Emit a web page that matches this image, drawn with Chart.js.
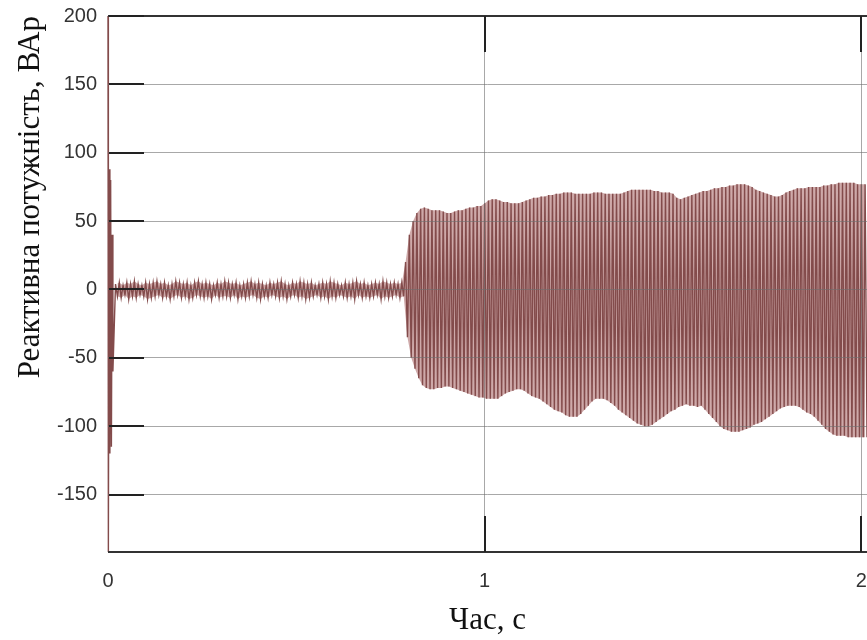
<!DOCTYPE html>
<html>
<head>
<meta charset="utf-8">
<title>Реактивна потужність</title>
<script src="https://cdn.jsdelivr.net/npm/chart.js@4.4.1/dist/chart.umd.min.js"></script>
<style>
    html, body { margin: 0; padding: 0; background: #fff; }
    #wrap { width: 867px; height: 640px; }
</style>
</head>
<body>
<div id="wrap"><canvas id="grafico"></canvas></div>
<script>
// початковий кидок (t = 0 ... 0.013 c)
const startT = [0, 0.001, 0.003, 0.005, 0.007, 0.009, 0.011, 0.013];
const startV = [200, -192, 88, -120, 80, -115, 40, -60];

// далі піки кожні 0.01 c, починаючи з 0.02 c
const T0 = 0.02;
const STEP = 0.01;

// верхні піки
const hi = [
    4,5,3,5,4,6,4,3,5,4,5,6,4,5,3,4,6,5,4,5,3,5,6,4,5,4,3,5,4,6,5,4,5,3,4,5,6,4,
    5,4,3,5,4,5,6,4,3,5,4,6,5,4,5,3,4,5,4,6,5,4,3,5,4,5,6,4,5,3,4,5,4,6,5,4,5,4,
    5,20,
    40,50,56,59,60,59,58,58,58,57,
    56,56,57,58,58,59,60,60,61,61,
    63,65,66,66,65,64,64,63,63,63,
    64,65,66,67,67,68,68,69,69,70,
    70,71,71,71,70,70,70,70,70,71,
    71,71,70,70,70,70,70,71,72,73,
    73,73,73,73,73,72,72,71,71,71,
    70,67,66,67,68,69,70,71,72,72,
    73,74,74,75,75,76,76,77,77,77,
    76,75,73,72,71,70,69,68,68,69,
    71,72,73,74,74,74,75,75,75,75,
    76,76,77,77,78,78,78,78,78,77,
    77,77
];

// нижні піки
const lo = [
    -5,-6,-4,-7,-5,-6,-4,-5,-7,-6,-5,-4,-6,-5,-7,-5,-4,-6,-5,-7,-6,-4,-5,-6,-5,-7,-4,-6,-5,-5,-6,-4,-7,-5,-6,-5,-4,-6,
    -7,-5,-6,-4,-5,-6,-5,-7,-5,-4,-6,-5,-7,-6,-5,-4,-6,-5,-7,-5,-6,-4,-5,-6,-5,-7,-4,-6,-5,-6,-5,-4,-7,-5,-6,-5,-4,-6,
    -5,-35,
    -50,-58,-65,-70,-72,-73,-73,-72,-72,-71,
    -71,-72,-73,-74,-75,-76,-77,-78,-79,-79,
    -80,-80,-80,-80,-78,-76,-75,-74,-73,-73,
    -74,-76,-78,-79,-80,-82,-84,-86,-88,-89,
    -90,-92,-93,-93,-93,-91,-88,-85,-82,-80,
    -80,-80,-81,-83,-85,-88,-90,-92,-94,-96,
    -98,-99,-100,-100,-99,-97,-95,-93,-91,-89,
    -88,-86,-85,-84,-85,-85,-86,-85,-88,-91,
    -94,-97,-100,-102,-103,-104,-104,-104,-103,-102,
    -101,-99,-98,-97,-95,-93,-91,-89,-87,-86,
    -85,-85,-85,-86,-88,-90,-91,-93,-96,-99,
    -102,-104,-106,-107,-107,-107,-108,-108,-108,-108,
    -108,-108
];

const yTicks = [-150, -100, -50, 0, 50, 100, 150, 200];
const xTicks = [0, 1, 2];

const COR_LINHA = '#834b4b';
const COR_FUNDO = 'rgba(190,140,140,0.75)';

function montarPontos() {
    var pontos = [];
    for (var i = 0; i < startT.length; i++) {
        pontos.push({ x: startT[i], y: startV[i] });
    }
    var n = Math.min(hi.length, lo.length);
    for (var k = 0; k < n; k++) {
        var t = T0 + k * STEP;
        pontos.push({ x: t, y: hi[k] });
        pontos.push({ x: t + STEP / 2, y: lo[k] });
    }
    return pontos;
}

// обвідні для світлої заливки під коливаннями
function envelope(arr, shift) {
    var n = Math.min(hi.length, lo.length);
    var out = [];
    for (var k = 0; k < n; k++) {
        out.push({ x: T0 + k * STEP + shift, y: arr[k] });
    }
    return out;
}

// рамка та короткі внутрішні риски (ліву межу закриває сам сигнал)
const moldura = {
    id: 'moldura',
    afterDraw: function(chart) {
        var ctx = chart.ctx;
        var a = chart.chartArea;
        var sx = chart.scales.x;
        var sy = chart.scales.y;
        ctx.save();
        ctx.strokeStyle = '#333';
        ctx.lineWidth = 2;
        ctx.beginPath();
        ctx.moveTo(a.left, a.top);
        ctx.lineTo(a.right, a.top);
        ctx.moveTo(a.left, a.bottom);
        ctx.lineTo(a.right, a.bottom);
        ctx.stroke();

        ctx.strokeStyle = '#222';
        ctx.beginPath();
        yTicks.forEach(function(v) {
            var py = Math.round(sy.getPixelForValue(v));
            ctx.moveTo(a.left + 1, py);
            ctx.lineTo(a.left + 36, py);
        });
        xTicks.forEach(function(v) {
            if (v === 0) return;
            var px = Math.round(sx.getPixelForValue(v));
            ctx.moveTo(px, a.top);
            ctx.lineTo(px, a.top + 36);
            ctx.moveTo(px, a.bottom);
            ctx.lineTo(px, a.bottom - 36);
        });
        ctx.stroke();
        ctx.restore();
    }
};

new Chart(document.getElementById('grafico'), {
    type: 'scatter',
    data: {
        datasets: [{
            data: montarPontos(),
            showLine: true,
            borderColor: COR_LINHA,
            borderWidth: 1.4,
            pointRadius: 0,
            tension: 0,
            clip: 3,
            order: 0
        }, {
            data: envelope(hi, 0),
            showLine: true,
            borderWidth: 0,
            borderColor: 'rgba(0,0,0,0)',
            pointRadius: 0,
            fill: false,
            order: 2
        }, {
            data: envelope(lo, STEP / 2),
            showLine: true,
            borderWidth: 0,
            borderColor: 'rgba(0,0,0,0)',
            backgroundColor: COR_FUNDO,
            pointRadius: 0,
            fill: '-1',
            order: 1
        }]
    },
    options: {
        responsive: true,
        maintainAspectRatio: false,
        animation: false,
        layout: { padding: { top: 16, left: 0, right: 0, bottom: 0 } },
        plugins: {
            legend: { display: false },
            tooltip: { enabled: false },
            filler: { propagate: false }
        },
        scales: {
            x: {
                type: 'linear',
                min: 0,
                max: 2.015,
                afterBuildTicks: function(s) { s.ticks = xTicks.map(function(v) { return { value: v }; }); },
                afterFit: function(s) { s.height = 88; s.paddingLeft = 0; s.paddingRight = 0; },
                grid: {
                    color: function(c) { return c.tick && c.tick.value === 0 ? 'rgba(0,0,0,0)' : 'rgba(110,110,110,0.6)'; },
                    lineWidth: 1, drawTicks: false, z: 1
                },
                border: { display: false },
                ticks: {
                    color: '#333',
                    padding: 17,
                    maxRotation: 0,
                    font: { family: 'Liberation Sans', size: 20 },
                    callback: function(v) { return String(v); }
                },
                title: {
                    display: true,
                    text: 'Час, с',
                    color: '#111',
                    padding: { top: 0, bottom: 1 },
                    font: { family: 'Liberation Serif', size: 31 }
                }
            },
            y: {
                min: -192,
                max: 200,
                afterBuildTicks: function(s) { s.ticks = yTicks.map(function(v) { return { value: v }; }); },
                afterFit: function(s) { s.width = 108; s.paddingTop = 0; s.paddingBottom = 0; },
                grid: { color: 'rgba(110,110,110,0.6)', lineWidth: 1, drawTicks: false, z: 1 },
                border: { display: false },
                ticks: {
                    color: '#333',
                    padding: 11,
                    font: { family: 'Liberation Sans', size: 20 }
                },
                title: {
                    display: true,
                    text: 'Реактивна потужність, ВАр',
                    align: 'end',
                    color: '#111',
                    padding: { top: 12, bottom: 0 },
                    font: { family: 'Liberation Serif', size: 31 }
                }
            }
        }
    },
    plugins: [moldura]
});
</script>
</body>
</html>
